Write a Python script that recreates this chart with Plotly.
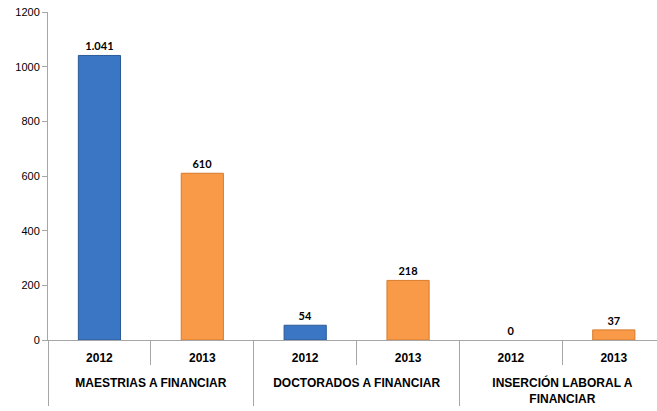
import plotly.graph_objects as go

grupos = ["MAESTRIAS A FINANCIAR", "DOCTORADOS A FINANCIAR", "INSERCIÓN LABORAL A<br>FINANCIAR"]
anios = ["2012", "2013"]
valores_2012 = [1041, 54, 0]
valores_2013 = [610, 218, 37]

# orden de categorias: cada grupo con 2012 y 2013
x_grupo = []
x_anio = []
y_vals = []
colores = []
bordes = []
anchos_borde = []
for i, g in enumerate(grupos):
    for a, vals in zip(anios, [valores_2012, valores_2013]):
        x_grupo.append("<br>" + g)  # linea vacia para bajar la etiqueta del grupo
        x_anio.append(a)
        y_vals.append(vals[i])
        colores.append('#3b76c4' if a == "2012" else '#f89a48')
        bordes.append('#2a5a96' if a == "2012" else '#d97a2a')
        anchos_borde.append(1 if vals[i] > 0 else 0)

fig = go.Figure()

fig.add_trace(go.Bar(
    x=[x_grupo, x_anio],
    y=y_vals,
    marker_color=colores,
    marker_line_color=bordes,
    marker_line_width=anchos_borde,
    texttemplate='%{y:,}',
    textposition='outside',
    textfont=dict(family='Lato', size=11, color='#000000', weight='bold'),
    cliponaxis=False,
    width=0.41,
    showlegend=False
))

fig.update_layout(
    width=657,
    height=411,
    margin=dict(l=48, r=0, t=12, b=71),
    paper_bgcolor='white',
    plot_bgcolor='white',
    separators=',.',
    font=dict(family='Liberation Sans', color='#000000'),
)

fig.update_xaxes(
    type='multicategory',
    range=[-0.5, 5.42],  # el grupo de la derecha queda cortado como en el original
    showline=True,
    linecolor='#a6a6a6',
    linewidth=1,
    ticks='outside',
    tickson='boundaries',
    ticklen=24,
    tickcolor='#a6a6a6',
    ticklabelstandoff=7,
    showgrid=False,
    showdividers=True,
    dividercolor='#a6a6a6',
    dividerwidth=1,
    tickfont=dict(family='Liberation Sans', size=12, color='#000000', weight='bold'),
)

fig.update_yaxes(
    range=[0, 1200],
    dtick=200,
    tickformat='d',
    showline=True,
    linecolor='#a6a6a6',
    linewidth=1,
    ticks='outside',
    ticklen=5,
    tickcolor='#a6a6a6',
    showgrid=False,
    zeroline=False,
    tickfont=dict(family='Liberation Sans', size=11, color='#000000'),
)

# quitar el margen del body para que el grafico quede en la esquina
fig.write_html("out.html", config={'displayModeBar': False},
               post_script="document.body.style.margin='0px';")
